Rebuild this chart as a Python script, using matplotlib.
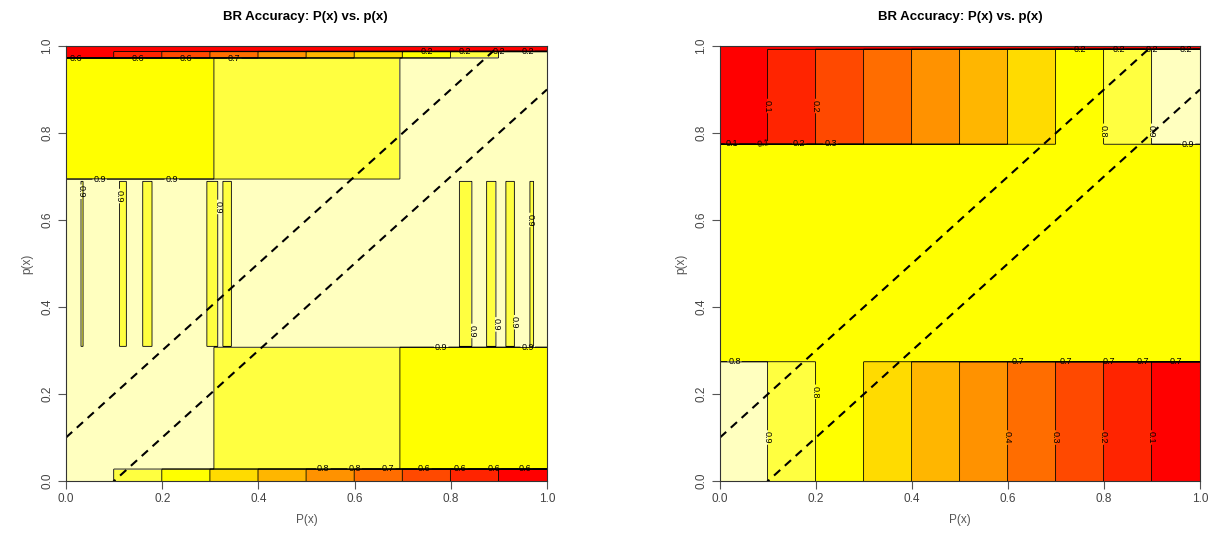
import numpy as np
import matplotlib
matplotlib.use("Agg")
import matplotlib.pyplot as plt

plt.rcParams['font.family'] = ['Liberation Sans', 'DejaVu Sans']

# ---- data ----
levels = [0.0, 0.1, 0.2, 0.3, 0.4, 0.5, 0.6, 0.7, 0.8, 0.9, 1.0]
heat_colors = ["#FF0000", "#FF2400", "#FF4900", "#FF6D00", "#FF9200",
               "#FFB600", "#FFDB00", "#FFFF00", "#FFFF40", "#FFFFBF"]
decile_edges = [0.0, 0.1, 0.2, 0.3, 0.4, 0.5, 0.6, 0.7, 0.8, 0.9, 1.0]

# left panel
left_P_block_edges = [0.0, 0.308, 0.695, 1.0]
left_p_block_edges = [0.028, 0.308, 0.695, 0.972]
left_block_values = [[0.95, 0.85, 0.75],   # p 0.028-0.308
                     [0.95, 0.95, 0.95],   # p 0.308-0.695
                     [0.75, 0.85, 0.95]]   # p 0.695-0.972
left_stripes_P = [(0.031, 0.036), (0.111, 0.125), (0.159, 0.180),
                  (0.292, 0.315), (0.326, 0.344), (0.817, 0.845),
                  (0.875, 0.894), (0.914, 0.933), (0.965, 0.972)]
left_stripe_p = (0.31, 0.69)
left_stripe_value = 0.88
left_top_band = [0.05, 0.15, 0.25, 0.35, 0.45, 0.55, 0.65, 0.75, 0.85, 0.95]
left_top_band_p = (0.972, 0.988)
left_bottom_band = [0.95, 0.85, 0.75, 0.65, 0.55, 0.45, 0.35, 0.25, 0.15, 0.05]
top_edge_value = 0.02

# right panel
right_p_edges = [0.275, 0.775, 0.993]
right_top_band = [0.05, 0.15, 0.25, 0.35, 0.45, 0.55, 0.65, 0.75, 0.85, 0.95]
right_mid_value = 0.75
right_bottom_band = [0.95, 0.85, 0.75, 0.65, 0.55, 0.45, 0.35, 0.25, 0.15, 0.05]

# approximate spots of the contour labels (P, p)
left_label_spots = [(0.02, 0.665), (0.07, 0.69), (0.118, 0.655), (0.22, 0.69),
                    (0.305, 0.63), (0.966, 0.60), (0.845, 0.345), (0.894, 0.36),
                    (0.933, 0.365), (0.78, 0.308), (0.96, 0.308),
                    (0.02, 0.972), (0.15, 0.972), (0.25, 0.972), (0.35, 0.972),
                    (0.535, 0.028), (0.60, 0.028), (0.67, 0.028), (0.745, 0.028),
                    (0.82, 0.028), (0.89, 0.028), (0.955, 0.028),
                    (0.75, 0.988), (0.83, 0.988), (0.90, 0.988), (0.96, 0.988)]
right_label_spots = [(0.1, 0.862), (0.2, 0.862), (0.8, 0.805), (0.9, 0.805),
                     (0.975, 0.775), (0.025, 0.775), (0.09, 0.775), (0.165, 0.775),
                     (0.23, 0.775), (0.03, 0.275), (0.1, 0.1), (0.2, 0.205),
                     (0.6, 0.1), (0.7, 0.1), (0.8, 0.1), (0.9, 0.1),
                     (0.62, 0.275), (0.72, 0.275), (0.81, 0.275), (0.88, 0.275),
                     (0.95, 0.275), (0.75, 0.993), (0.83, 0.993), (0.9, 0.993),
                     (0.97, 0.993)]

diag_offsets = [0.1, -0.1]
ticks = [0.0, 0.2, 0.4, 0.6, 0.8, 1.0]
tick_labels = ["0.0", "0.2", "0.4", "0.6", "0.8", "1.0"]
title = "BR Accuracy: P(x) vs. p(x)"

# ---- grids ----
n = 601
Pg = np.linspace(0, 1, n)
pg = np.linspace(0, 1, n)
PP, pp = np.meshgrid(Pg, pg)
dec_idx = np.clip(np.searchsorted(decile_edges, PP, side='right') - 1, 0, 9)

# left field
bi = np.clip(np.searchsorted(left_P_block_edges, PP, side='right') - 1, 0, 2)
bj = np.clip(np.searchsorted(left_p_block_edges, pp, side='right') - 1, 0, 2)
ZL = np.array(left_block_values)[bj, bi].astype(float)
for a, b in left_stripes_P:
    m = (PP >= a) & (PP <= b) & (pp >= left_stripe_p[0]) & (pp <= left_stripe_p[1])
    ZL[m] = left_stripe_value
mb = pp < left_p_block_edges[0]
ZL[mb] = np.array(left_bottom_band)[dec_idx][mb]
mt = (pp >= left_top_band_p[0]) & (pp < left_top_band_p[1])
ZL[mt] = np.array(left_top_band)[dec_idx][mt]
ZL[pp >= left_top_band_p[1]] = top_edge_value

# right field
ZR = np.full_like(PP, right_mid_value)
mb = pp < right_p_edges[0]
ZR[mb] = np.array(right_bottom_band)[dec_idx][mb]
mt = (pp >= right_p_edges[1]) & (pp < right_p_edges[2])
ZR[mt] = np.array(right_top_band)[dec_idx][mt]
ZR[pp >= right_p_edges[2]] = top_edge_value

# ---- figure ----
W, H = 1216, 546
fig = plt.figure(figsize=(W / 100, H / 100), dpi=100)
axL = fig.add_axes([66 / W, 1 - 481 / H, 481 / W, 435 / H])
axR = fig.add_axes([720 / W, 1 - 481 / H, 480 / W, 435 / H])

for ax, Z, tx, spots in [(axL, ZL, 305, left_label_spots),
                         (axR, ZR, 960, right_label_spots)]:
    ax.contourf(PP, pp, Z, levels=levels, colors=heat_colors)
    cs = ax.contour(PP, pp, Z, levels=levels[1:-1], colors='black', linewidths=0.6)
    ax.clabel(cs, fmt='%.1f', fontsize=6.5, inline=True, inline_spacing=1,
              manual=spots)
    for off in diag_offsets:
        xs = np.array([0.0, 1.0])
        ys = xs + off
        ax.plot(xs, ys, color='black', lw=1.5, ls=(0, (4, 3)))
    ax.set_xlim(0, 1)
    ax.set_ylim(0, 1)
    ax.set_xticks(ticks)
    ax.set_xticklabels(tick_labels)
    ax.set_yticks(ticks)
    ax.set_yticklabels(tick_labels, rotation=90, va='center')
    ax.tick_params(direction='out', length=6, width=0.8, color='#555555',
                   labelcolor='#444444', labelsize=8.5, pad=3)
    for s in ax.spines.values():
        s.set_color('#333333')
        s.set_linewidth(0.8)
    ax.set_xlabel("P(x)", color='#555555', fontsize=8.5, labelpad=6)
    ax.set_ylabel("p(x)", color='#555555', fontsize=8.5, labelpad=6)
    fig.text(tx / W, 1 - 17 / H, title, ha='center', va='center',
             fontsize=9.5, fontweight='bold')

fig.savefig("out.png", dpi=100)
